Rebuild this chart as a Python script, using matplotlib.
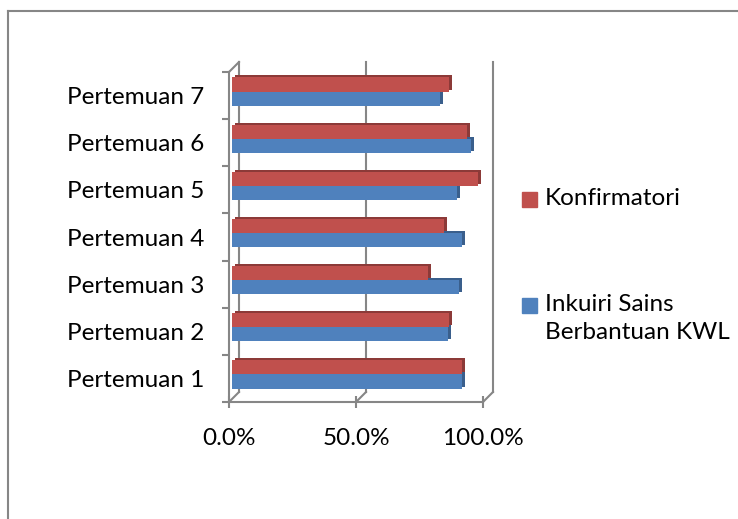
import numpy as np
import matplotlib.pyplot as plt
from matplotlib.transforms import ScaledTranslation
from matplotlib.patches import Rectangle
from matplotlib.lines import Line2D

categories = ["Pertemuan 1", "Pertemuan 2", "Pertemuan 3", "Pertemuan 4",
              "Pertemuan 5", "Pertemuan 6", "Pertemuan 7"]
konfirmatori = [90.6, 85.4, 77.2, 83.5, 96.9, 92.5, 85.4]
inkuiri_kwl = [90.6, 85.0, 89.4, 90.6, 88.6, 94.1, 81.9]
x_ticks = [0, 50, 100]
x_labels = ["0.0%", "50.0%", "100.0%"]
series_names = ["Konfirmatori", "Inkuiri Sains\nBerbantuan KWL"]

RED, RED_DARK = "#C0504D", "#8C3A38"
BLUE, BLUE_DARK = "#4F81BD", "#3A5F8C"
GRID = "#868686"
FS = 17.5

plt.rcParams['font.family'] = ['Lato', 'DejaVu Sans']

W, H = 738, 519
fig = plt.figure(figsize=(W / 100, H / 100), dpi=100)
ax = fig.add_axes([229 / W, 1 - 402 / H, 254 / W, 330 / H])
ax.set_xlim(0, 100)
ax.set_ylim(-0.5, len(categories) - 0.5)


def px(dx, dy):
    return ScaledTranslation(dx / fig.dpi, dy / fig.dpi, fig.dpi_scale_trans)


face = ax.transData + px(3, 4)
side = ax.transData + px(6, 6)
back = ax.transData + px(10, 10)

y = np.arange(len(categories))
bh = 0.30
# darker copies behind give the 3D side / top faces
ax.barh(y + bh / 2, konfirmatori, bh, color=RED_DARK, transform=side, zorder=2)
ax.barh(y - bh / 2, inkuiri_kwl, bh, color=BLUE_DARK, transform=side, zorder=2)
ax.barh(y - bh / 2, inkuiri_kwl, bh, color=BLUE, transform=face, zorder=3)
ax.barh(y + bh / 2, konfirmatori, bh, color=RED, transform=face, zorder=4)

# back wall gridlines
y0, y1 = ax.get_ylim()
for xv in x_ticks:
    ax.plot([xv, xv], [y0, y1], color=GRID, lw=1.5, transform=back,
            clip_on=False, zorder=1)
# floor / wall diagonals from front to back
for xv, yv in [(xv, y0) for xv in x_ticks] + [(0, y1)]:
    p_front = ax.transData.transform((xv, yv))
    p_back = back.transform((xv, yv))
    fig.add_artist(Line2D([p_front[0], p_back[0]], [p_front[1], p_back[1]],
                          transform=None, color=GRID, lw=1.5))

for s in ["top", "right"]:
    ax.spines[s].set_visible(False)
for s in ["left", "bottom"]:
    ax.spines[s].set_color(GRID)
    ax.spines[s].set_linewidth(1.5)
ax.patch.set_alpha(0)

ax.set_xticks(x_ticks)
ax.set_xticklabels(x_labels)
ax.set_yticks(np.arange(len(categories) + 1) - 0.5)
ax.set_yticklabels([])
ax.set_yticks(y, minor=True)
ax.set_yticklabels(categories, minor=True)
ax.tick_params(axis='x', direction='inout', length=9, width=1.5, color=GRID,
               pad=14, labelsize=FS)
ax.tick_params(axis='y', which='major', direction='out', length=5, width=1.5,
               color=GRID)
ax.tick_params(axis='y', which='minor', length=0, pad=18, labelsize=FS)

# legend
for name, col, ytop in [(series_names[0], RED, 192), (series_names[1], BLUE, 298)]:
    fig.patches.append(Rectangle((522 / W, 1 - (ytop + 15) / H), 15 / W, 15 / H,
                                 transform=fig.transFigure, color=col, figure=fig))
    fig.text(545 / W, 1 - (ytop - 4) / H, name, fontsize=FS, va='top',
             ha='left', linespacing=1.4)

# chart frame
fig.add_artist(Line2D([8 / W, 8 / W], [0, 1 - 11 / H], color=GRID, lw=1.5,
                      transform=fig.transFigure))
fig.add_artist(Line2D([8 / W, 1], [1 - 11 / H, 1 - 11 / H], color=GRID, lw=1.5,
                      transform=fig.transFigure))

fig.savefig("out.png", dpi=100)
